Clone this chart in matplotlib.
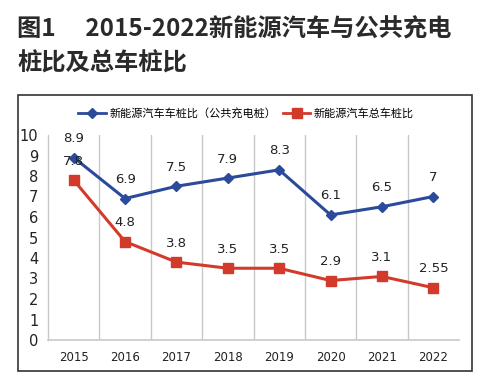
import matplotlib.pyplot as plt
from matplotlib.patches import Rectangle
from matplotlib.lines import Line2D

plt.rcParams['font.family'] = ['Noto Sans CJK SC', 'DejaVu Sans']

years = ["2015", "2016", "2017", "2018", "2019", "2020", "2021", "2022"]
public_ratio = [8.9, 6.9, 7.5, 7.9, 8.3, 6.1, 6.5, 7]
total_ratio = [7.8, 4.8, 3.8, 3.5, 3.5, 2.9, 3.1, 2.55]
public_labels = ["8.9", "6.9", "7.5", "7.9", "8.3", "6.1", "6.5", "7"]
total_labels = ["7.8", "4.8", "3.8", "3.5", "3.5", "2.9", "3.1", "2.55"]

blue = "#2b4a9b"
red = "#d23b2b"

fig = plt.figure(figsize=(4.84, 3.85), dpi=100)

# title
fig.text(17 / 484, 1 - 29 / 385, "图1\u3000 2015-2022新能源汽车与公共充电", fontsize=17.5,
         fontweight="bold", va="center", ha="left", color="#2a2a2a")
fig.text(17 / 484, 1 - 64 / 385, "桩比及总车桩比", fontsize=17.5,
         fontweight="bold", va="center", ha="left", color="#2a2a2a")

# outer frame
fig.patches.append(Rectangle((18 / 484, 1 - 371 / 385), 454 / 484, 276 / 385,
                             transform=fig.transFigure, fill=False,
                             edgecolor="#333333", lw=1.2))

ax = fig.add_axes([48 / 484, 1 - 340 / 385, 411 / 484, 205 / 385])
x = list(range(len(years)))
ax.plot(x, public_ratio, color=blue, lw=2.2, marker="D", ms=5.5)
ax.plot(x, total_ratio, color=red, lw=2.2, marker="s", ms=7)

for i in x:
    ax.annotate(public_labels[i], (i, public_ratio[i]), xytext=(0, 9),
                textcoords="offset points", ha="center", va="bottom", fontsize=9.5,
                color="#222222", family=["DejaVu Sans"])
    ax.annotate(total_labels[i], (i, total_ratio[i]), xytext=(0, 9),
                textcoords="offset points", ha="center", va="bottom", fontsize=9.5,
                color="#222222", family=["DejaVu Sans"])

ax.set_xlim(-0.5, len(years) - 0.5)
ax.set_ylim(0, 10)
ax.set_yticks(range(0, 11))
ax.set_yticklabels([str(v) for v in range(0, 11)], fontsize=10.5, family=["DejaVu Sans"])
ax.set_xticks(x)
ax.set_xticklabels(years, fontsize=8.5, family=["DejaVu Sans"])
ax.tick_params(length=0, pad=8, colors="#222222")
ax.tick_params(axis="y", pad=7)

# vertical separators between categories
for b in range(1, len(years)):
    ax.axvline(b - 0.5, color="#c8c8c8", lw=1, zorder=0)
for s in ["top", "right"]:
    ax.spines[s].set_visible(False)
ax.spines["left"].set_color("#c8c8c8")
ax.spines["bottom"].set_color("#c8c8c8")
ax.spines["left"].set_linewidth(1)
ax.spines["bottom"].set_linewidth(1.2)

handles = [Line2D([0], [0], color=blue, lw=2, marker="D", ms=5),
           Line2D([0], [0], color=red, lw=2, marker="s", ms=6.5)]
fig.legend(handles, ["新能源汽车车桩比（公共充电桩）", "新能源汽车总车桩比"],
           loc="center", bbox_to_anchor=(246 / 484, 1 - 113 / 385), ncol=2,
           frameon=False, fontsize=8, handlelength=2.5, columnspacing=0.6,
           handletextpad=0.3)

fig.savefig("out.png")
